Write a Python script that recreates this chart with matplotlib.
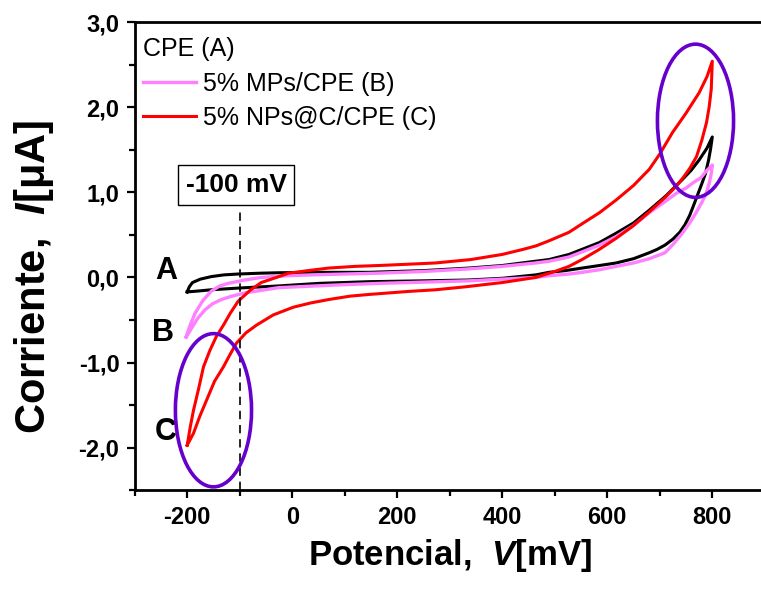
import matplotlib
matplotlib.use("Agg")
import matplotlib.pyplot as plt
from matplotlib.patches import Ellipse
from matplotlib.ticker import FuncFormatter, MultipleLocator

plt.rcParams["font.family"] = ["Liberation Sans", "DejaVu Sans"]
plt.rcParams["axes.unicode_minus"] = False
plt.rcParams["mathtext.fontset"] = "custom"
plt.rcParams["mathtext.it"] = "Liberation Sans:italic:bold"
plt.rcParams["mathtext.rm"] = "Liberation Sans:bold"

# CPE (A): sweep out to +800 mV and back, potential in mV, current in uA
a_fwd_v = [-200, -196, -190, -175, -154, -130, -103, -60, -26, 50, 146, 250, 336, 400, 450, 489,
           527, 552, 585, 617, 650, 680, 712, 743, 760, 775, 790, 800]
a_fwd_i = [-0.17, -0.11, -0.06, -0.02, 0.01, 0.03, 0.04, 0.05, 0.055, 0.06, 0.06, 0.08, 0.11, 0.14,
           0.18, 0.21, 0.27, 0.33, 0.41, 0.52, 0.64, 0.79, 0.96, 1.15, 1.26, 1.38, 1.52, 1.65]
a_rev_v = [800, 797, 793, 787, 780, 772, 764, 757, 748, 738, 725, 710, 695, 680, 650, 617, 585, 552,
           520, 489, 464, 400, 336, 250, 146, 50, -26, -103, -154, -180, -200]
a_rev_i = [1.65, 1.52, 1.38, 1.22, 1.10, 0.97, 0.84, 0.73, 0.62, 0.53, 0.45, 0.38, 0.33, 0.29, 0.22,
           0.17, 0.14, 0.11, 0.08, 0.06, 0.03, -0.01, -0.03, -0.04, -0.05, -0.07, -0.10, -0.125,
           -0.145, -0.16, -0.17]

# 5% MPs/CPE (B)
b_fwd_v = [-202, -195, -185, -170, -154, -138, -122, -90, -59, -10, 37, 100, 165, 250, 336, 400, 464,
           489, 527, 552, 585, 617, 650, 680, 710, 732, 750, 763, 778, 790, 797, 800]
b_fwd_i = [-0.70, -0.57, -0.42, -0.27, -0.16, -0.10, -0.07, -0.03, 0.0, 0.02, 0.03, 0.04, 0.05,
           0.07, 0.10, 0.13, 0.17, 0.19, 0.24, 0.30, 0.38, 0.48, 0.61, 0.76, 0.89, 0.99, 1.05, 1.11,
           1.17, 1.26, 1.30, 1.32]
b_rev_v = [800, 798, 794, 788, 780, 769, 757, 743, 727, 710, 680, 650, 617, 585, 552, 527, 489, 464,
           400, 336, 250, 165, 80, -26, -89, -115, -135, -152, -166, -180, -192, -202]
b_rev_i = [1.32, 1.22, 1.10, 0.98, 0.88, 0.76, 0.64, 0.52, 0.40, 0.29, 0.22, 0.17, 0.13, 0.09, 0.06,
           0.04, 0.02, 0.0, -0.02, -0.04, -0.055, -0.07, -0.09, -0.12, -0.18, -0.22, -0.26, -0.31,
           -0.38, -0.48, -0.60, -0.70]

# 5% NPs@C/CPE (C)
c_fwd_v = [-200, -194, -188, -178, -169, -157, -145, -130, -118, -103, -80, -59, -30, -7, 30, 69, 120,
           165, 220, 273, 340, 400, 440, 464, 489, 527, 552, 585, 617, 650, 680, 700, 724, 750, 775,
           790, 800]
c_fwd_i = [-1.97, -1.75, -1.56, -1.30, -1.05, -0.86, -0.70, -0.55, -0.42, -0.28, -0.15, -0.06, 0.0,
           0.05, 0.08, 0.11, 0.13, 0.14, 0.155, 0.17, 0.21, 0.27, 0.33, 0.37, 0.43, 0.53, 0.63, 0.76,
           0.91, 1.08, 1.27, 1.45, 1.70, 1.93, 2.17, 2.36, 2.54]
c_rev_v = [800, 798, 794, 789, 780, 770, 757, 743, 728, 712, 680, 648, 617, 585, 552, 527, 500, 464,
           400, 330, 273, 220, 146, 110, 69, 35, 2, -36, -68, -88, -106, -118, -131, -148, -163, -176,
           -188, -194, -200]
c_rev_i = [2.54, 2.21, 2.00, 1.82, 1.61, 1.42, 1.28, 1.16, 1.05, 0.95, 0.77, 0.60, 0.46, 0.33, 0.21,
           0.13, 0.07, 0.0, -0.06, -0.11, -0.145, -0.165, -0.20, -0.22, -0.26, -0.30, -0.35, -0.44,
           -0.56, -0.65, -0.77, -0.90, -1.05, -1.22, -1.44, -1.63, -1.83, -1.90, -1.97]

x_ticks = [-200, 0, 200, 400, 600, 800]
y_ticks = [-2.0, -1.0, 0.0, 1.0, 2.0, 3.0]
marker_v = -100

BLACK = "#000000"
PINK = "#FF80FF"
RED = "#FF0000"
VIOLET = "#6600CC"

fig = plt.figure(figsize=(7.61, 5.95), dpi=100)
ax = fig.add_axes([0.177, 0.176, 0.828, 0.787])

ax.plot(a_fwd_v + a_rev_v, a_fwd_i + a_rev_i, color=BLACK, lw=2.2)
ax.plot(b_fwd_v + b_rev_v, b_fwd_i + b_rev_i, color=PINK, lw=2.4, label="5% MPs/CPE (B)")
ax.plot(c_fwd_v + c_rev_v, c_fwd_i + c_rev_i, color=RED, lw=2.2, label="5% NPs@C/CPE (C)")

# highlight the two regions of interest
for cx, cy in [(-150, -1.56), (768, 1.84)]:
    ax.add_patch(Ellipse((cx, cy), 145, 1.8, fill=False, ec=VIOLET, lw=2.6, zorder=5))

ax.plot([marker_v, marker_v], [-2.5, 0.83], color="black", lw=1.2, ls=(0, (5, 3.5)))
ax.text(marker_v - 7, 1.085, "-100 mV", ha="center", va="center", fontsize=19, fontweight="bold",
        bbox=dict(boxstyle="square,pad=0.3", fc="white", ec="black", lw=1))

for lab, x, y in [("A", -240, 0.08), ("B", -246, -0.65), ("C", -240, -1.81)]:
    ax.text(x, y, lab, ha="center", va="center", fontsize=22, fontweight="bold")

ax.set_xlim(-300, 900)
ax.set_ylim(-2.5, 3.0)
ax.set_xticks(x_ticks)
ax.set_yticks(y_ticks)
ax.xaxis.set_minor_locator(MultipleLocator(100))
ax.yaxis.set_minor_locator(MultipleLocator(0.5))
ax.yaxis.set_major_formatter(FuncFormatter(lambda v, p: f"{v:.1f}".replace(".", ",")))
ax.tick_params(which="both", direction="out", width=1.6, top=False, right=False)
ax.tick_params(which="major", length=6, labelsize=17, pad=5)
ax.tick_params(which="minor", length=4)
for lbl in ax.get_xticklabels() + ax.get_yticklabels():
    lbl.set_fontweight("bold")
for sp in ax.spines.values():
    sp.set_linewidth(2)

ax.set_xlabel(r"Potencial,  $\mathit{V}$[mV]", fontsize=25, fontweight="bold", labelpad=6)
ax.set_ylabel(r"Corriente,  $\mathit{I}$[μA]", fontsize=30, fontweight="bold")
ax.yaxis.set_label_coords(-0.125, 0.455)

leg = ax.legend(title="CPE (A)", loc="upper left", bbox_to_anchor=(-0.01, 1.0), frameon=False,
                fontsize=18, title_fontsize=18, alignment="left", handlelength=2.1,
                handletextpad=0.3, borderaxespad=0.2, labelspacing=0.42)

fig.savefig("out.png", dpi=100)
